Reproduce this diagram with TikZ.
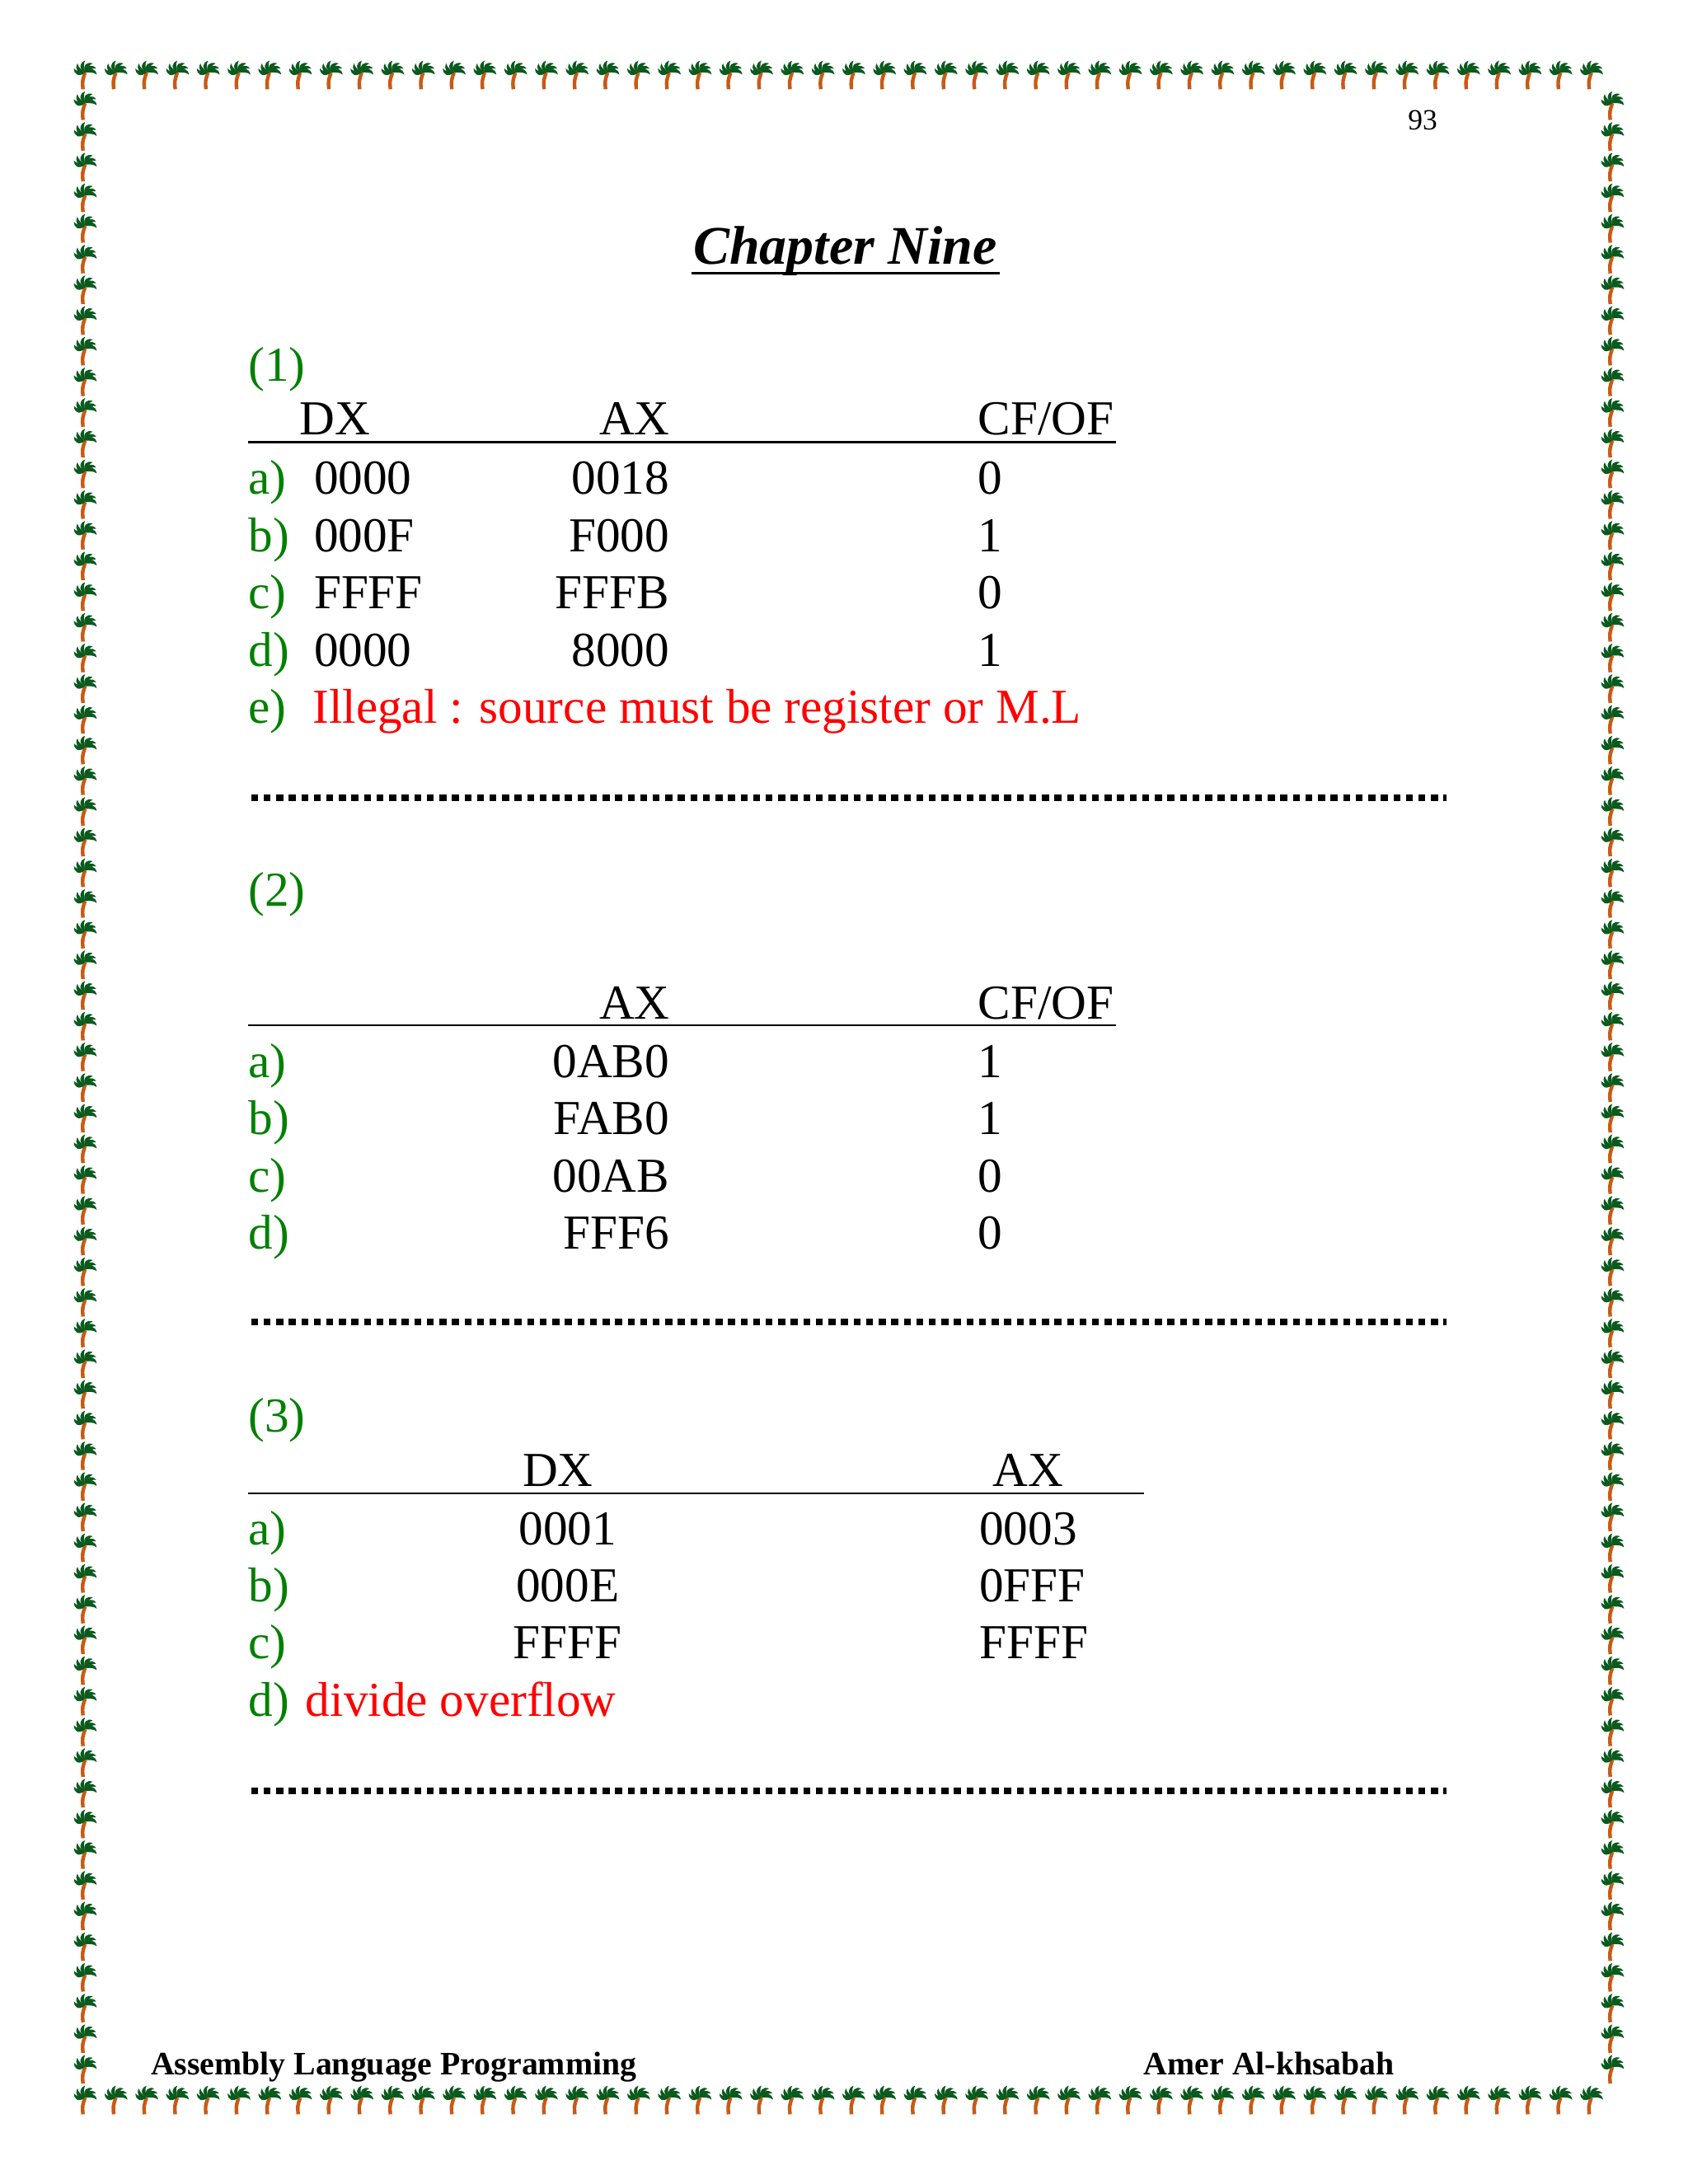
\documentclass[tikz,border=0pt]{standalone}
\usepackage{fontspec}
\setmainfont{Liberation Serif}
\begin{document}
\begin{tikzpicture}[x=1pt,y=-1pt,
  t/.style={font=\fontsize{35}{35}\selectfont,inner sep=0pt,text height=0.7em,text depth=0pt,yshift=-8pt},
  g/.style={t,text={rgb,255:red,0;green,128;blue,0}},
  r/.style={t,text=red},
  hl/.style={line width=1.3pt},
  dl/.style={line width=5pt,dash pattern=on 5pt off 4pt},
  foot/.style={font=\fontsize{23.5}{24}\selectfont\bfseries,inner sep=0pt,text height=0.7em,text depth=0pt,anchor=west},
  palm/.pic={
    \draw[line width=2.6pt,color={rgb,255:red,200;green,90;blue,20}] (-0.5,9) .. controls (-1,3) .. (1,-3);
    \foreach \a in {160,130,90,50,20,-10}{
      \fill[color={rgb,255:red,10;green,90;blue,30},rotate around={\a:(1,-3)}] (1,-3) .. controls (4,-8) and (8,-7) .. (9.5,-3) .. controls (7,-4.5) and (4,-3.5) .. (1,-3);}
  }]
\useasboundingbox (0,0) rectangle (1210,1566);
\fill[white] (0,0) rectangle (1210,1566);
% border
\foreach \i in {0,...,49}{
  \pic at ({60+\i*22.04},55) {palm};
  \pic at ({60+\i*22.04},1507) {palm};
}
\foreach \j in {1,...,65}{
  \pic at (60,{55+\j*22.0}) {palm};
  \pic at (1155,{55+\j*22.0}) {palm};
}
\node[font=\fontsize{21}{21}\selectfont,inner sep=0pt] (pg) at (1020,86) {93};
\node[font=\fontsize{39}{39}\selectfont\bfseries\itshape,inner sep=0pt] (title) at (606,180) {Chapter Nine};
\draw[line width=1.8pt] (496,196) -- (717,196);
% (1)
\node[g,anchor=west] (q1) at (178,262) {(1)};
\node[t] (h1a) at (240,300) {DX};
\node[t] (h1b) at (455,300) {AX};
\node[t] (h1c) at (750,300) {CF/OF};
\draw[hl] (178,317) -- (800,317);
\foreach \l/\d/\a/\c [count=\k from 0] in {a)/0000/0018/0, b)/000F/F000/1, c)/FFFF/FFFB/0, d)/0000/8000/1}{
  \node[g,anchor=west] (l1\k) at (178,{343+41*\k}) {\l};
  \node[t,anchor=west] (d1\k) at (225,{343+41*\k}) {\d};
  \node[t,anchor=east] (a1\k) at (480,{343+41*\k}) {\a};
  \node[t] (c1\k) at (710,{343+41*\k}) {\c};
}
\node[g,anchor=west] (l1e) at (178,507) {e)};
\node[r,anchor=west] (e1) at (224,507) {Illegal : source must be register or M.L};
\draw[dl] (180,572) -- (1037,572);
% (2)
\node[g,anchor=west] (q2) at (178,638) {(2)};
\node[t] (h2b) at (455,719) {AX};
\node[t] (h2c) at (750,719) {CF/OF};
\draw[hl] (178,735) -- (800,735);
\foreach \l/\a/\c [count=\k from 0] in {a)/0AB0/1, b)/FAB0/1, c)/00AB/0, d)/FFF6/0}{
  \node[g,anchor=west] (l2\k) at (178,{761+41*\k}) {\l};
  \node[t,anchor=east] (a2\k) at (480,{761+41*\k}) {\a};
  \node[t] (c2\k) at (710,{761+41*\k}) {\c};
}
\draw[dl] (180,948) -- (1037,948);
% (3)
\node[g,anchor=west] (q3) at (178,1015) {(3)};
\node[t] (h3a) at (400,1054) {DX};
\node[t] (h3b) at (737,1054) {AX};
\draw[hl] (178,1071) -- (820,1071);
\foreach \l/\d/\a [count=\k from 0] in {a)/0001/0003, b)/000E/0FFF, c)/FFFF/FFFF}{
  \node[g,anchor=west] (l3\k) at (178,{1096+41*\k}) {\l};
  \node[t] (d3\k) at (407,{1096+41*\k}) {\d};
  \node[t,anchor=west] (a3\k) at (702,{1096+41*\k}) {\a};
}
\node[g,anchor=west] (l3d) at (178,1219) {d)};
\node[r,anchor=west] (e3) at (219,1219) {divide overflow};
\draw[dl] (180,1284) -- (1037,1284);
% footer
\node[foot] (f1) at (108,1484) {Assembly Language Programming};
\node[foot] (f2) at (820,1484) {Amer Al-khsabah};
\end{tikzpicture}
\end{document}
